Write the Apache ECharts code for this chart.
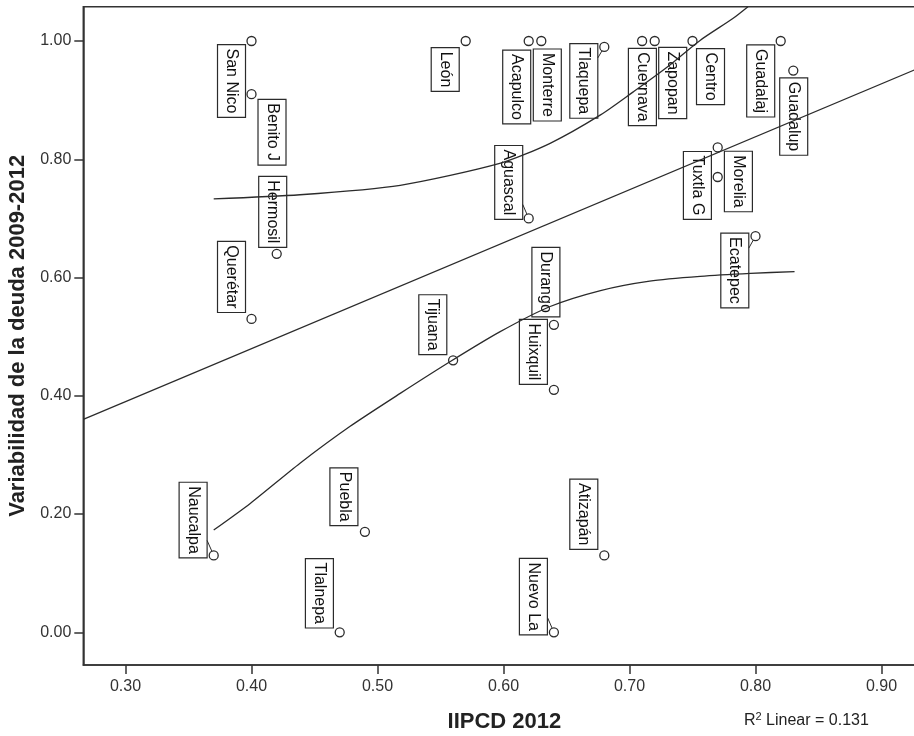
<!DOCTYPE html>
<html lang="es">
<head>
  <meta charset="UTF-8">
  <title>IIPCD 2012 vs Variabilidad de la deuda</title>
  <script src="https://cdn.jsdelivr.net/npm/echarts@6/dist/echarts.min.js"></script>
  <style>
    html, body { margin: 0; padding: 0; background: #fff; }
    #chart { width: 914px; height: 736px; }
  </style>
</head>
<body>
<div id="chart"></div>
<script>
// municipios (etiquetas tal como aparecen)
var names = ['San Nico', 'Benito J', 'Hermosil', 'Querétar', 'León', 'Acapulco', 'Monterre', 'Tlaquepa',
  'Cuernava', 'Zapopan', 'Centro', 'Guadalaj', 'Guadalup', 'Tuxtla G', 'Morelia', 'Aguascal',
  'Ecatepec', 'Durango', 'Huixquil', 'Tijuana', 'Naucalpa', 'Puebla', 'Tlalnepa', 'Nuevo La', 'Atizapán'];
var iipcd = [0.40, 0.40, 0.42, 0.40, 0.57, 0.62, 0.63, 0.68, 0.71, 0.72, 0.75, 0.82, 0.83, 0.77, 0.77, 0.62,
  0.80, 0.64, 0.64, 0.56, 0.37, 0.49, 0.47, 0.64, 0.68];
var variabilidad = [1.00, 0.91, 0.64, 0.53, 1.00, 1.00, 1.00, 0.99, 1.00, 1.00, 1.00, 1.00, 0.95, 0.82, 0.77, 0.70,
  0.67, 0.52, 0.41, 0.46, 0.13, 0.17, 0.00, 0.00, 0.13];

// lineas de ajuste
var linearFit = [[0.2665, 0.360], [0.935, 0.959]];
var upperCurve = [[0.370, 0.733], [0.4385, 0.740], [0.518, 0.756], [0.597, 0.793], [0.637, 0.827],
  [0.677, 0.875], [0.703, 0.914], [0.730, 0.956], [0.756, 1.001], [0.782, 1.038], [0.794, 1.058]];
var lowerCurve = [[0.370, 0.173], [0.399, 0.218], [0.4385, 0.286], [0.478, 0.348], [0.518, 0.404],
  [0.5575, 0.4575], [0.597, 0.508], [0.637, 0.551], [0.677, 0.578], [0.716, 0.594], [0.756, 0.602],
  [0.796, 0.607], [0.831, 0.610]];

var xTicks = [0.30, 0.40, 0.50, 0.60, 0.70, 0.80, 0.90];
var yTicks = [0.00, 0.20, 0.40, 0.60, 0.80, 1.00];

// posicion de cada etiqueta (centro de la caja respecto al punto, en px)
var labelOffset = {
  'San Nico': [-20, 40], 'Benito J': [20.5, 38], 'Hermosil': [-4, -42], 'Querétar': [-20, -42],
  'León': [-20.5, 28.5], 'Acapulco': [-12, 46], 'Monterre': [6, 44], 'Tlaquepa': [-20.5, 34],
  'Cuernava': [0.3, 46], 'Zapopan': [18, 42], 'Centro': [18, 35.6], 'Guadalaj': [-20, 40],
  'Guadalup': [0.4, 46], 'Tuxtla G': [-20.3, 38], 'Morelia': [20.7, 4.5], 'Aguascal': [-20, -36],
  'Ecatepec': [-20.7, 34.3], 'Durango': [-8, -42.7], 'Huixquil': [-20.5, -38], 'Tijuana': [-20.3, -35.6],
  'Naucalpa': [-20.6, -35.4], 'Puebla': [-21, -35], 'Tlalnepa': [-20.3, -39], 'Nuevo La': [-20.5, -35.6],
  'Atizapán': [-20.5, -41.2]
};
// pequeñas lineas guia: dy del punto de la caja donde arrancan
var leaders = { 'Tlaquepa': 11, 'Aguascal': -14, 'Naucalpa': -15, 'Nuevo La': -15, 'Ecatepec': 12 };

var FONT = '"Liberation Sans", Arial, sans-serif';
var INK = '#2b2b2b';

var chart = echarts.init(document.getElementById('chart'));

var points = iipcd.map(function (x, i) { return [x, variabilidad[i]]; });

function renderPoint(params, api) {
  var p = api.coord([api.value(0), api.value(1)]);
  var name = names[params.dataIndex];
  var off = labelOffset[name] || [0, -40];
  var r = 4.5;
  var cx = p[0] + off[0], cy = p[1] + off[1];
  var children = [
    {
      type: 'circle',
      shape: { cx: p[0], cy: p[1], r: r },
      style: { fill: 'none', stroke: INK, lineWidth: 1.3 }
    },
    {
      type: 'text',
      x: cx, y: cy,
      rotation: -Math.PI / 2,
      style: {
        text: name,
        font: '16px ' + FONT,
        fill: '#111',
        align: 'center',
        verticalAlign: 'middle',
        lineHeight: 20,
        padding: [4, 4],
        borderColor: INK,
        borderWidth: 1.2
      }
    }
  ];
  if (leaders[name] !== undefined) {
    var edgeX = off[0] < 0 ? cx + 14 : cx - 14;
    var tx = edgeX, ty = p[1] + leaders[name];
    var dx = tx - p[0], dy = ty - p[1];
    var d = Math.sqrt(dx * dx + dy * dy) || 1;
    children.push({
      type: 'line',
      shape: { x1: p[0] + dx / d * r, y1: p[1] + dy / d * r, x2: tx, y2: ty },
      style: { stroke: INK, lineWidth: 1 }
    });
  }
  return { type: 'group', children: children };
}

var axisLineStyle = { color: '#333', width: 1.5 };

var option = {
  animation: false,
  backgroundColor: '#fff',
  grid: {
    left: 83.3, top: 6.7, right: -11.6, bottom: 71,
    containLabel: false, outerBoundsMode: 'none',
    show: true, borderColor: '#333', borderWidth: 1.5, backgroundColor: 'transparent'
  },
  xAxis: {
    type: 'value',
    min: 0.2665, max: 0.935,
    name: 'IIPCD 2012',
    nameLocation: 'middle',
    nameGap: 46,
    nameTextStyle: { fontFamily: FONT, fontSize: 22, fontWeight: 'bold', color: '#222' },
    splitLine: { show: false },
    axisLine: { show: true, onZero: false, lineStyle: axisLineStyle },
    axisTick: { show: true, length: 9, customValues: xTicks, lineStyle: axisLineStyle },
    axisLabel: {
      customValues: xTicks, margin: 14, fontFamily: FONT, fontSize: 16, color: '#333',
      formatter: function (v) { return v.toFixed(2); }
    }
  },
  yAxis: {
    type: 'value',
    min: -0.0553, max: 1.058,
    name: 'Variabilidad de la deuda 2009-2012',
    nameLocation: 'middle',
    nameGap: 48,
    nameTextStyle: { fontFamily: FONT, fontSize: 22, fontWeight: 'bold', color: '#222' },
    splitLine: { show: false },
    axisLine: { show: true, onZero: false, lineStyle: axisLineStyle },
    axisTick: { show: true, length: 9, customValues: yTicks, lineStyle: axisLineStyle },
    axisLabel: {
      customValues: yTicks, margin: 12, fontFamily: FONT, fontSize: 16, color: '#333',
      formatter: function (v) { return v.toFixed(2); }
    }
  },
  graphic: [{
    type: 'text',
    left: 744, top: 711,
    style: {
      text: '{a|R}{s|2}{a| Linear = 0.131}',
      rich: {
        a: { fontFamily: FONT, fontSize: 16, fill: '#222', lineHeight: 20 },
        s: { fontFamily: FONT, fontSize: 11, fill: '#222', lineHeight: 20, verticalAlign: 'top' }
      }
    }
  }],
  series: [
    {
      type: 'custom',
      coordinateSystem: 'cartesian2d',
      silent: true,
      data: points,
      renderItem: renderPoint
    },
    {
      type: 'line', data: linearFit, showSymbol: false, silent: true,
      lineStyle: { color: INK, width: 1.3 }
    },
    {
      type: 'line', data: upperCurve, smooth: 0.25, showSymbol: false, silent: true,
      lineStyle: { color: INK, width: 1.3 }
    },
    {
      type: 'line', data: lowerCurve, smooth: 0.25, showSymbol: false, silent: true,
      lineStyle: { color: INK, width: 1.3 }
    }
  ]
};

chart.setOption(option);
</script>
</body>
</html>
